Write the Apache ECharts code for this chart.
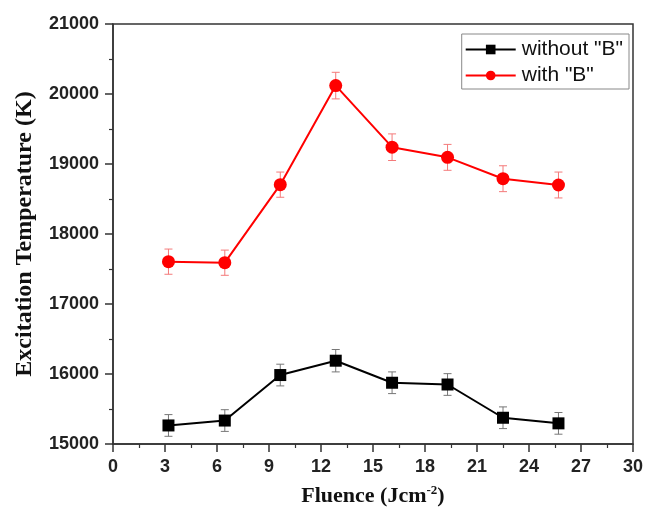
<!DOCTYPE html>
<html>
<head>
<meta charset="utf-8">
<script src="https://cdn.jsdelivr.net/npm/echarts@6/dist/echarts.min.js"></script>
<style>
  html, body { margin: 0; padding: 0; background: #fff; }
  #chart { width: 646px; height: 510px; }
</style>
</head>
<body>
<div id="chart"></div>
<script>
// data
var fluence = [3.2, 6.45, 9.65, 12.85, 16.1, 19.3, 22.5, 25.7];
var withoutB = [15265, 15335, 15985, 16190, 15875, 15850, 15375, 15295];
var withB = [17605, 17590, 18705, 20120, 19240, 19095, 18790, 18700];
var errWithoutB = [155, 155, 155, 160, 155, 155, 155, 155];
var errWithB = [180, 180, 180, 190, 190, 185, 185, 185];
var xTicks = [0, 3, 6, 9, 12, 15, 18, 21, 24, 27, 30];
var yTicks = [15000, 16000, 17000, 18000, 19000, 20000, 21000];

function pairs(xs, ys) {
  return xs.map(function (x, i) { return [x, ys[i]]; });
}
function errData(xs, ys, es) {
  return xs.map(function (x, i) { return [x, ys[i] - es[i], ys[i] + es[i]]; });
}
function errRender(color) {
  return function (params, api) {
    var lo = api.coord([api.value(0), api.value(1)]);
    var hi = api.coord([api.value(0), api.value(2)]);
    var w = 4;
    var st = { stroke: color, lineWidth: 1 };
    return {
      type: 'group',
      children: [
        { type: 'line', shape: { x1: lo[0], y1: lo[1], x2: hi[0], y2: hi[1] }, style: st },
        { type: 'line', shape: { x1: lo[0] - w, y1: lo[1], x2: lo[0] + w, y2: lo[1] }, style: st },
        { type: 'line', shape: { x1: hi[0] - w, y1: hi[1], x2: hi[0] + w, y2: hi[1] }, style: st }
      ]
    };
  };
}

var axisLine = { lineStyle: { color: '#333', width: 1.5 } };
var tickLabel = { color: '#222', fontFamily: 'Liberation Sans', fontWeight: 'bold', fontSize: 18 };

var chart = echarts.init(document.getElementById('chart'));
chart.setOption({
  animation: false,
  grid: {
    left: 113, right: 13, top: 24, bottom: 66,
    outerBoundsMode: 'none', containLabel: false,
    show: true, borderColor: '#333', borderWidth: 1.5
  },
  legend: {
    data: ['without "B"', 'with "B"'],
    orient: 'vertical',
    right: 17, top: 34,
    itemWidth: 50, itemHeight: 12, itemGap: 5,
    padding: [5, 6, 3, 3],
    borderColor: '#888', borderWidth: 1,
    textStyle: { fontFamily: 'Liberation Sans', fontSize: 21, color: '#111', padding: [0, 0, 0, 1] }
  },
  xAxis: {
    type: 'value', min: 0, max: 30, interval: 3,
    name: 'Fluence (Jcm{sup|-2})',
    nameLocation: 'middle', nameGap: 40,
    nameTextStyle: {
      fontFamily: 'Liberation Serif', fontWeight: 'bold', fontSize: 22, color: '#111',
      rich: { sup: { fontFamily: 'Liberation Serif', fontWeight: 'bold', fontSize: 13, verticalAlign: 'top', padding: [0, 0, 11, 0], color: '#111' } }
    },
    axisLine: axisLine,
    axisTick: { inside: false, length: 8, lineStyle: { color: '#333', width: 1.5 } },
    minorTick: { show: true, splitNumber: 2, length: 4, lineStyle: { color: '#333', width: 1.2 } },
    splitLine: { show: false },
    axisLabel: Object.assign({ margin: 14, formatter: function (v) { return xTicks.indexOf(v) >= 0 ? v : ''; } }, tickLabel)
  },
  yAxis: {
    type: 'value', min: 15000, max: 21000, interval: 1000,
    name: 'Excitation Temperature (K)',
    nameLocation: 'middle', nameGap: 76,
    nameTextStyle: { fontFamily: 'Liberation Serif', fontWeight: 'bold', fontSize: 24, color: '#111' },
    axisLine: axisLine,
    axisTick: { inside: false, length: 8, lineStyle: { color: '#333', width: 1.5 } },
    minorTick: { show: true, splitNumber: 2, length: 4, lineStyle: { color: '#333', width: 1.2 } },
    splitLine: { show: false },
    axisLabel: Object.assign({ margin: 14, formatter: function (v) { return yTicks.indexOf(v) >= 0 ? v : ''; } }, tickLabel)
  },
  series: [
    {
      name: 'err without', type: 'custom', silent: true, z: 1,
      renderItem: errRender('#777'),
      encode: { x: 0, y: [1, 2] },
      data: errData(fluence, withoutB, errWithoutB)
    },
    {
      name: 'err with', type: 'custom', silent: true, z: 1,
      renderItem: errRender('#f47a7a'),
      encode: { x: 0, y: [1, 2] },
      data: errData(fluence, withB, errWithB)
    },
    {
      name: 'without "B"', type: 'line', z: 3,
      data: pairs(fluence, withoutB),
      symbol: 'rect', symbolSize: 12,
      lineStyle: { color: '#000', width: 2 },
      itemStyle: { color: '#000' }
    },
    {
      name: 'with "B"', type: 'line', z: 3,
      data: pairs(fluence, withB),
      symbol: 'circle', symbolSize: 13,
      lineStyle: { color: '#f00', width: 2 },
      itemStyle: { color: '#f00' }
    }
  ]
});
</script>
</body>
</html>
